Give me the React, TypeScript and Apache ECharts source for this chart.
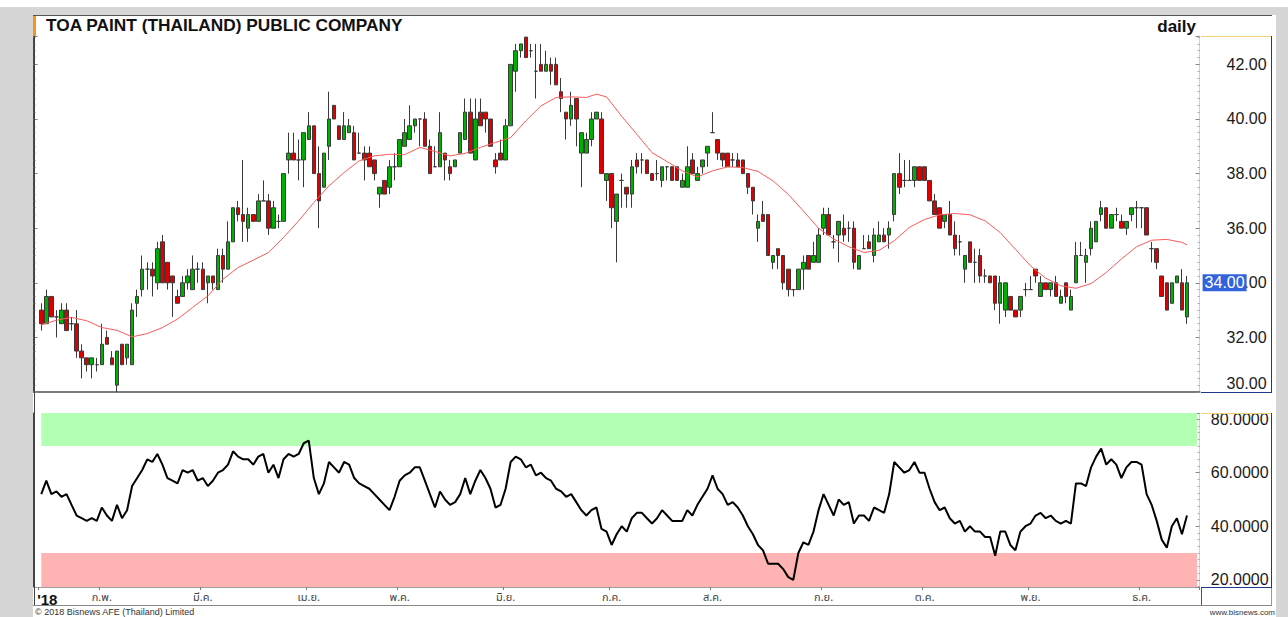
import React, { useEffect, useRef } from "react";
import * as echarts from "echarts";

// ---------- data ----------
const monthLabels = ["'18", "ก.พ.", "มี.ค.", "เม.ย.", "พ.ค.", "มิ.ย.", "ก.ค.", "ส.ค.", "ก.ย.", "ต.ค.", "พ.ย.", "ธ.ค."];
const monthCounts = [12, 20, 21, 18, 21, 21, 20, 22, 20, 21, 22, 10];

const opens = [
  33.0, 32.5, 33.5, 32.75, 32.5, 33.0, 32.5, 32.5, 31.5, 31.25,
  31.0, 31.0, 31.0, 32.0, 31.25, 30.25, 31.75, 31.25, 31.0, 33.25,
  33.75, 34.5, 34.5, 34.0, 35.5, 34.75, 34.25, 33.5, 33.5, 34.0,
  33.75, 34.5, 34.5, 34.0, 34.25, 33.75, 35.0, 34.5, 35.5, 36.75,
  36.5, 36.0, 36.5, 36.25, 37.0, 37.0, 36.0, 36.25, 36.25, 38.5,
  38.75, 38.5, 38.5, 39.25, 39.75, 38.0, 37.5, 39.0, 40.5, 39.75,
  39.25, 39.5, 39.5, 38.75, 38.75, 38.75, 38.5, 37.25, 37.75, 37.5,
  38.25, 38.25, 39.0, 39.25, 39.75, 40.0, 40.0, 39.0, 38.25, 38.25,
  38.75, 38.25, 38.25, 38.75, 39.25, 40.25, 38.5, 40.25, 40.25, 40.0,
  38.5, 38.75, 38.5, 39.75, 41.75, 42.5, 43.0, 42.5, 41.75, 42.0,
  41.75, 42.0, 42.0, 41.0, 40.25, 40.0, 40.75, 38.75, 38.75, 39.25,
  40.0, 40.0, 37.75, 38.0, 36.25, 37.75, 37.5, 37.25, 38.5, 38.5,
  38.5, 38.0, 38.0, 37.75, 38.25, 38.25, 38.25, 37.5, 37.5, 38.5,
  37.75, 38.25, 38.75, 39.5, 39.25, 38.75, 38.75, 38.5, 38.5, 38.5,
  38.0, 37.5, 36.0, 36.5, 36.5, 34.75, 35.25, 35.0, 34.5, 33.75,
  33.75, 34.5, 35.0, 34.75, 34.75, 36.0, 36.5, 35.5, 35.75, 36.0,
  36.0, 36.0, 34.5, 35.25, 35.5, 35.0, 35.5, 35.75, 35.75, 36.5,
  38.0, 37.75, 37.75, 37.75, 38.25, 38.25, 37.75, 37.0, 36.75, 36.25,
  36.5, 35.75, 35.5, 34.5, 35.5, 34.75, 35.0, 34.25, 34.25, 34.25,
  33.25, 33.0, 33.5, 33.0, 33.0, 33.75, 33.75, 34.5, 33.5, 34.0,
  33.75, 34.0, 33.25, 34.0, 33.0, 34.0, 35.0, 34.75, 35.25, 35.5,
  36.5, 36.75, 36.0, 36.5, 36.25, 36.0, 36.5, 36.75, 36.75, 36.75,
  35.25, 35.25, 34.25, 34.0, 33.25, 34.0, 34.0, 32.75,
];
const closes = [
  32.5, 33.5, 32.75, 32.75, 33.0, 32.25, 32.5, 31.5, 31.25, 31.0,
  31.25, 31.0, 31.75, 31.75, 31.0, 31.5, 31.0, 31.75, 33.0, 33.5,
  34.5, 34.5, 34.25, 35.25, 34.0, 34.0, 34.0, 33.25, 34.0, 34.25,
  34.5, 34.5, 33.75, 34.25, 34.0, 35.0, 34.5, 35.5, 36.75, 36.5,
  36.25, 36.5, 36.25, 37.0, 37.0, 36.0, 36.75, 36.25, 38.0, 38.75,
  38.5, 38.5, 39.5, 39.75, 38.0, 37.0, 38.75, 40.0, 40.0, 39.25,
  39.75, 39.75, 38.5, 38.75, 38.5, 38.25, 38.0, 37.5, 37.25, 38.25,
  38.25, 39.25, 39.5, 39.75, 40.0, 40.0, 39.0, 38.0, 38.25, 39.5,
  38.5, 38.0, 38.5, 39.5, 40.25, 38.75, 40.0, 39.75, 40.0, 39.0,
  38.25, 38.5, 39.75, 42.0, 42.5, 42.75, 42.25, 42.5, 41.75, 41.75,
  42.0, 41.75, 41.25, 40.75, 40.0, 40.5, 40.0, 39.5, 39.25, 40.0,
  40.25, 38.0, 38.0, 36.75, 37.25, 37.75, 37.25, 38.25, 38.25, 38.5,
  38.0, 37.75, 38.0, 38.25, 38.25, 37.75, 37.75, 37.75, 38.25, 38.0,
  38.0, 38.5, 39.0, 39.5, 38.75, 38.5, 38.25, 38.5, 38.25, 38.0,
  37.5, 37.0, 36.25, 36.25, 35.0, 35.0, 35.0, 34.0, 33.75, 33.75,
  34.5, 34.75, 34.5, 35.0, 35.75, 36.5, 35.75, 35.5, 36.25, 35.75,
  36.0, 34.75, 35.0, 35.25, 35.25, 35.75, 35.75, 35.5, 36.0, 38.0,
  37.5, 37.75, 37.75, 38.25, 37.75, 37.75, 37.0, 36.5, 36.0, 36.5,
  35.75, 35.25, 35.5, 35.0, 34.75, 34.75, 34.25, 34.25, 34.0, 33.25,
  34.0, 34.0, 33.0, 32.75, 33.5, 33.75, 33.75, 34.25, 34.0, 33.75,
  34.0, 33.5, 33.5, 33.5, 33.5, 35.0, 35.0, 35.0, 36.0, 36.25,
  36.75, 36.0, 36.5, 36.5, 36.0, 36.25, 36.75, 36.75, 36.75, 35.75,
  35.25, 34.75, 33.5, 33.0, 34.0, 34.25, 33.0, 34.0,
];
const lows = [
  32.25, 32.5, 32.75, 32.0, 32.5, 32.25, 32.25, 31.25, 30.5, 30.75,
  30.5, 30.75, 31.0, 31.75, 31.0, 30.0, 31.0, 31.0, 31.0, 32.75,
  33.5, 33.75, 33.5, 33.75, 34.0, 33.75, 32.75, 33.25, 33.5, 33.75,
  33.75, 34.0, 33.75, 33.25, 33.75, 33.75, 34.0, 34.5, 35.5, 36.25,
  35.5, 35.5, 36.25, 36.25, 37.0, 35.75, 36.0, 36.0, 36.25, 38.0,
  38.5, 37.75, 37.5, 39.25, 38.0, 36.0, 37.5, 38.5, 40.0, 39.25,
  39.25, 39.5, 38.5, 38.75, 37.75, 38.25, 37.75, 36.75, 37.25, 37.25,
  37.75, 38.25, 39.0, 39.25, 39.5, 39.0, 39.0, 38.0, 38.25, 38.25,
  37.75, 37.75, 38.25, 38.75, 39.25, 38.75, 38.5, 39.75, 39.5, 39.0,
  38.0, 38.5, 38.5, 39.75, 41.0, 42.25, 42.25, 42.25, 40.75, 41.75,
  41.75, 41.25, 41.25, 40.25, 39.25, 39.75, 39.0, 37.5, 38.75, 39.0,
  40.0, 38.0, 37.0, 36.0, 34.75, 36.75, 36.75, 36.75, 38.0, 38.0,
  38.0, 37.75, 37.75, 37.5, 37.75, 37.75, 37.75, 37.5, 37.5, 38.0,
  37.75, 38.0, 38.25, 39.5, 38.5, 38.25, 38.25, 38.25, 38.25, 38.0,
  37.25, 36.5, 35.5, 36.25, 35.0, 34.5, 34.5, 33.75, 33.5, 33.5,
  33.75, 33.75, 34.5, 34.75, 34.75, 35.75, 35.75, 35.25, 34.75, 35.5,
  35.5, 34.5, 34.5, 35.25, 35.25, 34.75, 35.5, 35.5, 35.25, 36.25,
  37.25, 37.5, 37.75, 37.5, 37.75, 37.75, 37.0, 36.5, 36.0, 36.0,
  35.75, 35.0, 35.0, 34.0, 34.75, 34.0, 34.0, 34.0, 34.0, 33.0,
  32.5, 32.75, 33.0, 32.75, 32.75, 33.5, 33.75, 34.0, 33.5, 33.75,
  33.5, 33.5, 33.25, 33.25, 33.0, 34.0, 35.0, 34.0, 35.0, 35.5,
  36.25, 36.0, 36.0, 36.25, 36.0, 35.75, 36.25, 36.0, 36.0, 35.75,
  34.75, 34.5, 33.5, 33.0, 33.25, 34.0, 33.0, 32.5,
];
const highs = [
  33.25, 33.75, 33.5, 33.0, 33.25, 33.25, 32.75, 33.0, 31.75, 31.25,
  31.25, 31.25, 32.5, 32.25, 31.5, 31.5, 31.75, 31.75, 33.25, 33.75,
  35.0, 34.75, 34.75, 35.5, 35.75, 34.75, 34.25, 33.75, 34.25, 34.5,
  35.0, 34.75, 34.75, 34.25, 34.25, 35.25, 35.25, 36.25, 36.75, 37.0,
  38.5, 36.75, 36.5, 37.25, 37.75, 37.25, 37.0, 36.5, 38.0, 39.5,
  39.5, 39.25, 39.5, 40.25, 39.75, 39.0, 38.75, 41.0, 40.5, 39.75,
  40.25, 40.0, 39.75, 39.5, 39.0, 39.0, 38.5, 37.5, 37.75, 38.5,
  38.75, 39.25, 40.0, 40.5, 40.0, 40.0, 40.25, 39.25, 39.0, 40.25,
  38.75, 38.5, 38.5, 39.5, 40.75, 40.75, 40.75, 40.75, 40.25, 40.0,
  38.75, 39.25, 40.0, 42.0, 42.75, 42.75, 43.0, 42.75, 42.75, 42.75,
  42.5, 42.25, 42.25, 41.5, 40.25, 41.0, 40.75, 39.5, 39.5, 40.25,
  40.25, 40.25, 38.0, 38.0, 37.25, 38.0, 37.5, 38.5, 38.75, 38.75,
  38.5, 38.0, 38.5, 38.25, 38.25, 38.25, 38.25, 38.0, 39.0, 38.75,
  38.25, 38.5, 39.0, 40.25, 39.25, 38.75, 38.75, 38.75, 38.75, 38.5,
  38.0, 37.5, 36.5, 37.0, 36.5, 35.0, 35.25, 35.0, 34.5, 33.75,
  34.5, 35.0, 35.0, 35.5, 36.0, 36.75, 36.75, 35.75, 36.25, 36.5,
  36.25, 36.25, 35.0, 35.75, 35.75, 36.0, 36.25, 36.0, 36.25, 38.0,
  38.75, 38.5, 38.5, 38.25, 38.25, 38.25, 37.75, 37.25, 36.75, 36.5,
  37.0, 36.25, 35.75, 35.0, 35.5, 35.25, 35.25, 34.5, 34.25, 34.25,
  34.25, 34.0, 33.5, 33.0, 33.5, 34.0, 34.25, 34.5, 34.25, 34.0,
  34.0, 34.25, 33.75, 34.0, 33.75, 35.5, 35.5, 35.25, 36.25, 36.25,
  37.0, 36.75, 36.5, 36.75, 36.5, 36.25, 36.75, 37.0, 36.75, 36.75,
  35.5, 35.25, 34.25, 34.0, 34.0, 34.25, 34.5, 34.25,
];

// moving average (read at sampled bars, 1-based bar number)
const maBars = [
  1, 4, 7, 10, 13, 16, 19, 22, 25, 28, 31, 34, 37, 40, 43, 46, 49, 52, 55, 58,
  61, 64, 67, 70, 73, 76, 79, 82, 85, 88, 91, 94, 97, 100, 103, 106, 109, 111, 113, 116,
  119, 122, 125, 128, 131, 134, 137, 140, 143, 146, 149, 152, 155, 158, 161, 164, 167, 170, 173, 176,
  179, 182, 185, 188, 191, 194, 197, 200, 203, 206, 209, 212, 215, 218, 221, 224, 227, 228,
];
const maValues = [
  32.46, 32.63, 32.73, 32.61, 32.36, 32.26, 32.02, 32.14, 32.36, 32.67, 33.1, 33.52, 34.13, 34.56, 34.83, 35.11, 35.66, 36.27, 36.94, 37.55,
  38.04, 38.47, 38.65, 38.71, 38.69, 38.96, 38.81, 38.65, 38.74, 38.96, 39.14, 39.32, 39.93, 40.48, 40.79, 40.81, 40.79, 40.91, 40.81, 40.1,
  39.44, 38.77, 38.44, 38.1, 37.88, 38.1, 38.25, 38.22, 38.08, 37.73, 37.24, 36.63, 36.0, 35.6, 35.32, 35.11, 35.19, 35.54, 36.03, 36.32,
  36.49, 36.54, 36.49, 36.27, 35.84, 35.23, 34.62, 34.17, 33.89, 33.8, 33.97, 34.38, 34.87, 35.32, 35.56, 35.59, 35.48, 35.39,
];

const rsi = [
  52, 57, 52, 53, 51, 52, 48, 44, 43, 42,
  43, 42, 47, 44, 42, 48, 43, 46, 55, 58,
  61, 65, 64, 67, 63, 58, 57, 56, 61, 60,
  61, 57, 58, 55, 57, 60, 61, 63, 68, 66,
  65, 65, 63, 66, 67, 60, 63, 58, 65, 67,
  66, 67, 71, 72, 58, 52, 56, 64, 62, 60,
  64, 63, 58, 56, 55, 54, 52, 50, 48, 46,
  51, 57, 59, 60, 62, 62, 57, 52, 47, 53,
  50, 48, 49, 52, 58, 52, 57, 61, 58, 54,
  47, 48, 54, 64, 66, 65, 62, 63, 59, 60,
  58, 57, 54, 53, 51, 52, 49, 46, 44, 46,
  47, 39, 38, 33, 37, 40, 38, 43, 45, 45,
  43, 41, 43, 46, 44, 42, 42, 42, 46, 44,
  48, 51, 54, 59, 54, 52, 48, 49, 47, 44,
  40, 37, 33, 31, 26, 26, 26, 24, 21, 20,
  30, 34, 33, 38, 46, 52, 48, 44, 50, 48,
  49, 41, 44, 44, 42, 47, 46, 45, 52, 64,
  62, 60, 61, 64, 60, 60, 54, 49, 46, 47,
  43, 41, 42, 38, 40, 38, 38, 36, 36, 29,
  38, 38, 33, 31, 38, 40, 41, 44, 45, 43,
  44, 42, 41, 42, 41, 56, 56, 55, 62, 66,
  69, 63, 65, 63, 58, 62, 64, 64, 63, 52,
  48, 42, 35, 32, 40, 43, 37, 44,
];

const priceMin = 30;
const priceMax = 43.04;
const rsiMin = 17.3;
const rsiMax = 82.3;
const rsiUpper = 70;
const rsiLower = 30;

const FONT = "'Liberation Sans', Arial, sans-serif";
const THAI = "'Noto Sans Thai', 'Tahoma', 'DejaVu Sans', 'Liberation Sans', sans-serif";

export default function App() {
  const ref = useRef<HTMLDivElement>(null);

  useEffect(() => {
    const el = ref.current;
    if (!el) return;
    const chart = echarts.init(el, undefined, { renderer: "svg" });

    const LEAD = 1;
    const TAIL = 2;
    const n = closes.length;
    const total = LEAD + n + TAIL;
    const cats = Array.from({ length: total }, (_, i) => String(i));
    const labelAt: Record<number, string> = {};
    let s = LEAD;
    monthLabels.forEach((m, k) => {
      labelAt[s] = m;
      s += monthCounts[k];
    });

    const candleData = closes.map((c, i) => [i + LEAD, opens[i], c, lows[i], highs[i]]);
    const maData = maBars.map((b, i) => [b - 1 + LEAD, maValues[i]]);
    const rsiData = rsi.map((v, i) => [i + LEAD, v]);
    const lastClose = closes[n - 1];

    const gridLeft = 33.7;
    const gridRight = 88.4;

    const line = (x1: number, y1: number, x2: number, y2: number, stroke: string, w = 1) => ({
      type: "line",
      z: 50,
      silent: true,
      shape: { x1, y1, x2, y2 },
      style: { stroke, lineWidth: w },
    });
    const text = (t: string, x: number, y: number, font: string, fill: string, align = "left") => ({
      type: "text",
      z: 60,
      silent: true,
      x,
      y,
      style: {
        text: t,
        font,
        fill,
        align,
        verticalAlign: "middle",
        textAlign: align,
        textVerticalAlign: "middle",
      },
    });

    const option: any = {
      animation: false,
      backgroundColor: "transparent",
      grid: [
        { left: gridLeft, right: gridRight, top: 36, height: 356 },
        { left: gridLeft, right: gridRight, top: 413, height: 174 },
      ],
      xAxis: [
        {
          type: "category",
          gridIndex: 0,
          data: cats,
          boundaryGap: true,
          axisLine: { show: true, lineStyle: { color: "#7a7a7a", width: 2 } },
          axisTick: { show: false },
          axisLabel: { show: false },
          splitLine: { show: false },
        },
        {
          type: "category",
          gridIndex: 1,
          data: cats,
          boundaryGap: true,
          axisLine: { show: true, lineStyle: { color: "#a0a0a0", width: 1 } },
          axisTick: {
            show: true,
            length: 3,
            interval: (i: number) => labelAt[i] !== undefined,
            lineStyle: { color: "#777" },
          },
          axisLabel: {
            show: true,
            interval: (i: number) => labelAt[i] !== undefined,
            margin: 5,
            fontSize: 11,
            color: "#444",
            fontFamily: THAI,
            formatter: (v: string) => {
              const m = labelAt[Number(v)];
              if (m === undefined) return "";
              if (m === monthLabels[0]) return "{y|" + m + "}";
              return m;
            },
            rich: {
              y: { fontFamily: FONT, fontWeight: "bold", fontSize: 15, color: "#111", padding: [0, 0, 0, 12] },
            },
          },
          splitLine: { show: false },
        },
      ],
      yAxis: [
        {
          type: "value",
          gridIndex: 0,
          position: "right",
          min: priceMin,
          max: priceMax,
          interval: 2,
          axisLine: { show: true, lineStyle: { color: "#f2d273", width: 1 } },
          axisTick: { show: true, inside: true, length: 4, lineStyle: { color: "#888" } },
          minorTick: { show: true, splitNumber: 8, length: 2, lineStyle: { color: "#aaa" } },
          splitLine: { show: false },
          axisLabel: {
            align: "right",
            margin: 67,
            fontSize: 16,
            fontFamily: FONT,
            color: "#1a1a1a",
            formatter: (v: number) => {
              const r = Math.round(v);
              if (Math.abs(v - r) > 1e-6 || r % 2 !== 0) return "";
              const t = v.toFixed(2);
              return r === priceMin ? "{b|" + t + "}" : t;
            },
            rich: { b: { fontSize: 16, fontFamily: FONT, color: "#1a1a1a", padding: [0, 0, 18, 0] } },
          },
        },
        {
          type: "value",
          gridIndex: 0,
          position: "left",
          min: priceMin,
          max: priceMax,
          interval: 2,
          axisLine: { show: true, lineStyle: { color: "#444", width: 1 } },
          axisTick: { show: true, inside: true, length: 4, lineStyle: { color: "#888" } },
          minorTick: { show: true, splitNumber: 8, length: 2, lineStyle: { color: "#aaa" } },
          axisLabel: { show: false },
          splitLine: { show: false },
        },
        {
          type: "value",
          gridIndex: 1,
          position: "right",
          min: rsiMin,
          max: rsiMax,
          splitNumber: 3,
          axisLine: { show: true, lineStyle: { color: "#f2d273", width: 1 } },
          axisTick: { show: true, inside: true, length: 4, lineStyle: { color: "#888" } },
          minorTick: { show: true, splitNumber: 8, length: 2, lineStyle: { color: "#aaa" } },
          splitLine: { show: false },
          axisLabel: {
            align: "right",
            margin: 69,
            fontSize: 16,
            fontFamily: FONT,
            color: "#1a1a1a",
            formatter: (v: number) => {
              const q = v / 20;
              return Math.abs(q - Math.round(q)) < 1e-6 ? v.toFixed(4) : "";
            },
          },
        },
        {
          type: "value",
          gridIndex: 1,
          position: "left",
          min: rsiMin,
          max: rsiMax,
          splitNumber: 3,
          axisLine: { show: true, lineStyle: { color: "#444", width: 1 } },
          axisTick: { show: false },
          axisLabel: { show: false },
          splitLine: { show: false },
        },
      ],
      series: [
        {
          type: "candlestick",
          xAxisIndex: 0,
          yAxisIndex: 0,
          data: candleData,
          encode: { x: 0, y: [1, 2, 3, 4] },
          barWidth: 4,
          itemStyle: {
            color: "#00b000",
            color0: "#dd0000",
            borderColor: "#3a3a3a",
            borderColor0: "#3a3a3a",
            borderWidth: 1,
          },
          markLine: {
            silent: true,
            symbol: "none",
            lineStyle: { color: "rgba(0,0,0,0)", width: 1, type: "solid" },
            data: [{ yAxis: lastClose }],
            label: {
              show: true,
              position: "end",
              distance: 3,
              formatter: (p: any) => Number(p.value).toFixed(2),
              backgroundColor: "#3163dc",
              color: "#ffffff",
              opacity: 1,
              fontSize: 16,
              fontFamily: FONT,
              padding: [1, 2, 0, 2],
            },
            z: 10,
          },
          z: 3,
        },
        {
          type: "line",
          xAxisIndex: 0,
          yAxisIndex: 0,
          data: maData,
          symbol: "none",
          lineStyle: { color: "#ff5a5a", width: 1 },
          z: 4,
        },
        {
          type: "line",
          xAxisIndex: 1,
          yAxisIndex: 2,
          data: rsiData,
          symbol: "none",
          lineStyle: { color: "#000", width: 2 },
          z: 4,
          markArea: {
            silent: true,
            data: [
              [
                { xAxis: LEAD, yAxis: rsiUpper, itemStyle: { color: "#b3ffb3" } },
                { xAxis: total - 1, yAxis: rsiMax },
              ],
              [
                { xAxis: LEAD, yAxis: rsiMin, itemStyle: { color: "#ffb3b3" } },
                { xAxis: total - 1, yAxis: rsiLower },
              ],
            ],
          },
        },
      ],
      graphic: [
        { type: "rect", z: -10, silent: true, shape: { x: 0, y: 7, width: 1288, height: 610 }, style: { fill: "#d6d6d6" } },
        { type: "rect", z: -9, silent: true, shape: { x: 33, y: 15, width: 1243, height: 602 }, style: { fill: "#ffffff" } },
        line(33, 15.5, 1272, 15.5, "#555"),
        { type: "rect", z: 51, silent: true, shape: { x: 33, y: 16, width: 3, height: 20 }, style: { fill: "#f7941d" } },
        line(34.5, 36, 34.5, 605, "#444"),
        // price axis box
        line(1201, 36.5, 1271, 36.5, "#f2d273"),
        line(1271.5, 36, 1271.5, 393, "#1f3a8a"),
        line(1201, 392.5, 1272, 392.5, "#1f3a8a"),
        // rsi axis box
        line(1201, 413.5, 1271, 413.5, "#f2d273"),
        line(1271.5, 413, 1271.5, 588, "#1f3a8a"),
        line(1201, 587.5, 1272, 587.5, "#1f3a8a"),
        // x axis box
        line(1201.5, 588, 1201.5, 605, "#555"),
        line(1271.5, 588, 1271.5, 605, "#999"),
        line(33, 605.5, 1272, 605.5, "#888"),
        text("TOA PAINT (THAILAND) PUBLIC COMPANY", 46, 25, "bold 17.3px 'Liberation Sans', Arial, sans-serif", "#111"),
        text("daily", 1196, 26, "bold 17px 'Liberation Sans', Arial, sans-serif", "#111", "right"),
        text("© 2018 Bisnews AFE (Thailand) Limited", 35, 612, "9px 'Liberation Sans', Arial, sans-serif", "#333"),
        text("www.bisnews.com", 1275, 612, "8px 'Liberation Sans', Arial, sans-serif", "#333", "right"),
      ],
    };

    chart.setOption(option);
    return () => {
      chart.dispose();
    };
  }, []);

  return (
    <div
      ref={ref}
      style={{ position: "fixed", left: 0, top: 0, width: 1288, height: 617, background: "#ffffff" }}
    />
  );
}
